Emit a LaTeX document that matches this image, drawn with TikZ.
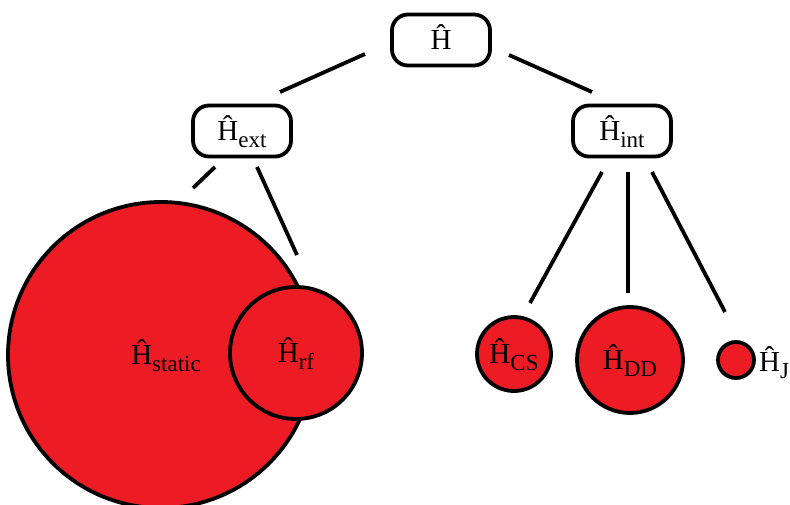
\documentclass[tikz,border=0pt]{standalone}
\usepackage{fontspec}
\setmainfont{Liberation Serif}
\definecolor{hred}{HTML}{ED1C24}
\newcommand{\Hsub}[1]{Ĥ\raisebox{-7pt}{\fontsize{23}{23}\selectfont #1}}
\begin{document}
\begin{tikzpicture}[x=1pt,y=-1pt,
  font=\fontsize{29}{29}\selectfont,
  box/.style={draw, line width=3.8pt, rounded corners=16pt, minimum width=98pt,
    minimum height=51pt, inner sep=0pt, text height=19pt, text depth=0pt},
  ball/.style={circle, draw, line width=3.8pt, fill=hred, inner sep=0pt,
    text height=19pt, text depth=0pt},
  link/.style={line width=3.8pt}]
\useasboundingbox (0,0) rectangle (790,505);
% boxes
\node[box] (H) at (441,40) {Ĥ};
\node[box] (Hext) at (242,131) {\Hsub{ext}};
\node[box] (Hint) at (622,131) {\Hsub{int}};
% circles
\node[ball, minimum size=306pt] (Hstatic) at (161,355) {\hspace*{10pt}\Hsub{static}};
\node[ball, minimum size=132pt] (Hrf) at (296,353) {\Hsub{rf}};
\node[ball, minimum size=74pt] (HCS) at (514,354) {\Hsub{CS}};
\node[ball, minimum size=106pt] (HDD) at (630,360) {\Hsub{DD}};
\node[ball, minimum size=36pt] (HJ) at (736,360) {};
\node[anchor=west, inner sep=0pt, text height=19pt, text depth=0pt] (HJl) at (759,362) {\Hsub{J}};
% connector end points
\coordinate (a1) at (365,54);  \coordinate (a2) at (280,92);
\coordinate (b1) at (509,55);  \coordinate (b2) at (592,92);
\coordinate (c1) at (215,167); \coordinate (c2) at (193,188);
\coordinate (d1) at (257,167); \coordinate (d2) at (297,255);
\coordinate (e1) at (602,172); \coordinate (e2) at (530,303);
\coordinate (f1) at (628,172); \coordinate (f2) at (628,293);
\coordinate (g1) at (652,172); \coordinate (g2) at (725,312);
\draw[link] (a1) -- (a2);
\draw[link] (b1) -- (b2);
\draw[link] (c1) -- (c2);
\draw[link] (d1) -- (d2);
\draw[link] (e1) -- (e2);
\draw[link] (f1) -- (f2);
\draw[link] (g1) -- (g2);
\end{tikzpicture}
\end{document}
